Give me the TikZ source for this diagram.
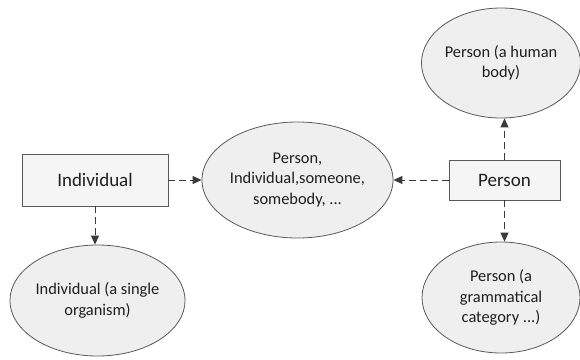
\documentclass[tikz,border=0pt]{standalone}
\usepackage{fontspec}
\setmainfont{Carlito}
\usetikzlibrary{arrows.meta,shapes.geometric}
\definecolor{linegray}{HTML}{595959}
\definecolor{arrowgray}{HTML}{3A3A3A}
\definecolor{fillgray}{HTML}{EFEFEF}
\definecolor{textc}{HTML}{1F1F1F}
\tikzset{
  oval/.style={ellipse, draw=linegray, line width=0.8pt, fill=fillgray, inner sep=0pt,
    text=textc, font=\fontsize{16.4}{20.5}\selectfont, align=center},
  boxnode/.style={rectangle, draw=linegray, line width=0.8pt, fill=fillgray!60, inner sep=0pt,
    text=textc, font=\fontsize{19}{23}\selectfont},
  link/.style={draw=arrowgray, line width=1pt, dash pattern=on 7pt off 4pt,
    -{Triangle[length=9pt,width=8pt]}}
}
\begin{document}
\begin{tikzpicture}[x=1pt,y=-1pt]
\useasboundingbox (0,0) rectangle (580,359);
% nodes
\node[boxnode, minimum width=146pt, minimum height=52pt] (ib) at (95,180) {Individual};
\node[oval, minimum width=169pt, minimum height=111pt] (ie) at (97.5,300.5) {Individual (a single\\organism)};
\node[oval, minimum width=185pt, minimum height=116pt] (ce) at (297.5,180) {Person,\\Individual,someone,\\somebody, ...};
\node[boxnode, minimum width=111pt, minimum height=40pt] (pb) at (504.5,180) {Person};
\node[oval, minimum width=159pt, minimum height=110pt] (pt) at (501,63) {Person (a human\\body)};
\node[oval, minimum width=158pt, minimum height=111pt] (pbe) at (501,297.5) {Person (a\\grammatical\\category ...)};
% connectors
\draw[link] (ib.east) -- (ce.west);
\draw[link] (ib.south) -- (ib.south |- ie.north);
\draw[link] (pb.west) -- (ce.east);
\draw[link] (pb.north) -- (pb.north |- pt.south);
\draw[link] (pb.south) -- (pb.south |- pbe.north);
\end{tikzpicture}
\end{document}
